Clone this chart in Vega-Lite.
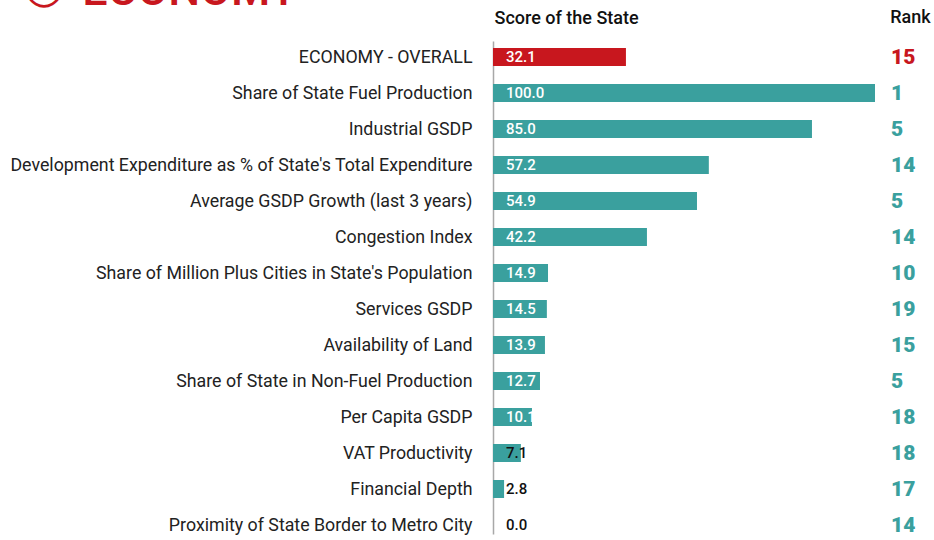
{
"$schema":"https://vega.github.io/schema/vega-lite/v6.json",
"width":382,"height":493,
"autosize":"none",
"padding":{"left":493,"top":41,"right":59,"bottom":6},
"background":"white",
"view":{"stroke":null},
"config":{"font":"Roboto"},
"data":{"values":[
{"name":"ECONOMY - OVERALL","bar":34.8,"score":32.1,"rank":15,"group":"overall"},
{"name":"Share of State Fuel Production","bar":100,"score":100.0,"rank":1,"group":"parameter"},
{"name":"Industrial GSDP","bar":83.5,"score":85.0,"rank":5,"group":"parameter"},
{"name":"Development Expenditure as % of State's Total Expenditure","bar":56.5,"score":57.2,"rank":14,"group":"parameter"},
{"name":"Average GSDP Growth (last 3 years)","bar":53.4,"score":54.9,"rank":5,"group":"parameter"},
{"name":"Congestion Index","bar":40.3,"score":42.2,"rank":14,"group":"parameter"},
{"name":"Share of Million Plus Cities in State's Population","bar":14.4,"score":14.9,"rank":10,"group":"parameter"},
{"name":"Services GSDP","bar":14.1,"score":14.5,"rank":19,"group":"parameter"},
{"name":"Availability of  Land","bar":13.6,"score":13.9,"rank":15,"group":"parameter"},
{"name":"Share of State in Non-Fuel Production","bar":12.3,"score":12.7,"rank":5,"group":"parameter"},
{"name":"Per Capita GSDP","bar":10.2,"score":10.1,"rank":18,"group":"parameter"},
{"name":"VAT Productivity","bar":7.3,"score":7.1,"rank":18,"group":"parameter"},
{"name":"Financial Depth","bar":2.9,"score":2.8,"rank":17,"group":"parameter"},
{"name":"Proximity of State Border to Metro City","bar":0,"score":0.0,"rank":14,"group":"parameter"}
]},
"encoding":{
"y":{"field":"name","type":"nominal","sort":null,
"scale":{"paddingInner":0.5,"paddingOuter":0.097,"align":1},
"axis":{"title":null,"ticks":false,"domain":true,"domainColor":"#a8a8a8","domainWidth":1.5,"labelFont":"Roboto","labelFontSize":17.8,"labelColor":"#222222","labelPadding":21,"labelOffset":1,"labelLimit":500,"grid":false}}
},
"layer":[
{"mark":{"type":"bar","clip":false},
"encoding":{
"x":{"field":"bar","type":"quantitative","scale":{"domain":[0,100],"nice":false,"zero":true},
"axis":{"orient":"top","title":"Score of the State","titleFont":"Roboto","titleFontSize":18,"titleFontWeight":500,"titleColor":"#111111","titleAnchor":"start","titleAlign":"left","titleX":1,"titleY":-18,"titleBaseline":"alphabetic","labels":false,"ticks":false,"domain":false,"grid":false}},
"color":{"field":"group","type":"nominal","scale":{"domain":["overall","parameter"],"range":["#C8171E","#3AA09E"]},"legend":null}}},
{"mark":{"type":"text","align":"left","baseline":"middle","dx":13,"fontSize":15,"font":"Roboto","fontWeight":500},
"encoding":{
"x":{"datum":0,"type":"quantitative"},
"text":{"field":"score","type":"quantitative","format":".1f"},
"color":{"condition":{"test":"datum.score >= 10","value":"#ffffff"},"value":"#111111"}}},
{"mark":{"type":"text","align":"left","baseline":"middle","dy":1,"fontSize":21,"font":"Roboto","fontWeight":900},
"encoding":{
"x":{"datum":104.2,"type":"quantitative"},
"text":{"field":"rank","type":"quantitative"},
"color":{"field":"group","type":"nominal","legend":null}}},
{"data":{"values":[{"label":"Rank"}]},
"mark":{"type":"text","align":"left","baseline":"alphabetic","dy":-34,"fontSize":18,"font":"Roboto","fontWeight":500,"color":"#111111"},
"encoding":{
"x":{"datum":104,"type":"quantitative"},
"y":{"datum":"ECONOMY - OVERALL"},
"text":{"field":"label"}}},
{"data":{"values":[{"label":"ECONOMY"}]},
"mark":{"type":"text","align":"left","baseline":"alphabetic","dy":-52,"fontSize":45,"font":"Roboto","fontWeight":500,"color":"#C8171E"},
"encoding":{
"x":{"datum":-107.5,"type":"quantitative"},
"y":{"datum":"ECONOMY - OVERALL"},
"text":{"field":"label"}}},
{"data":{"values":[{"label":"○"}]},
"mark":{"type":"text","align":"center","baseline":"middle","dy":-69,"fontSize":46,"font":"DejaVu Sans","fontWeight":700,"color":"#C8171E"},
"encoding":{
"x":{"datum":-117.5,"type":"quantitative"},
"y":{"datum":"ECONOMY - OVERALL"},
"text":{"field":"label"}}}
]
}
